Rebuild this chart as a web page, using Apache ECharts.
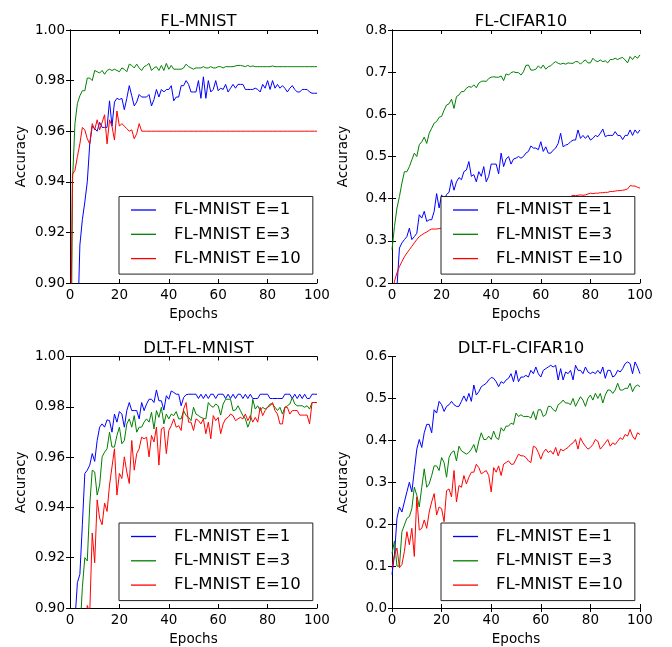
<!DOCTYPE html>
<html>
<head>
<meta charset="utf-8">
<script src="https://cdn.jsdelivr.net/npm/echarts@6/dist/echarts.min.js"></script>
<style>html,body{margin:0;padding:0;background:#fff;}#c{width:672px;height:647px;}</style>
</head>
<body>
<div id="c"></div>
<script>
const titles = ['FL-MNIST', 'FL-CIFAR10', 'DLT-FL-MNIST', 'DLT-FL-CIFAR10'];
const seriesNames = ['FL-MNIST E=1', 'FL-MNIST E=3', 'FL-MNIST E=10'];
const xTicks = [0, 20, 40, 60, 80, 100];
const yRanges = [[0.90, 1.00, 0.02, 2], [0.2, 0.8, 0.1, 1], [0.90, 1.00, 0.02, 2], [0.0, 0.6, 0.1, 1]];

// FL-MNIST
const p1E1 = [0.80,0.82,0.85,0.88,0.915,0.925,0.932,0.940,0.955,0.962,
0.961,0.960,0.9635,0.9615,0.9615,0.9615,0.972,0.962,0.9715,0.973,
0.9725,0.973,0.9685,0.973,0.978,0.974,0.970,0.9715,0.9745,0.9735,
0.9735,0.9735,0.9745,0.970,0.9725,0.9765,0.9735,0.9765,0.9755,0.9765,
0.9765,0.978,0.972,0.9735,0.9735,0.978,0.978,0.980,0.9785,0.9755,
0.9755,0.9755,0.980,0.973,0.9815,0.973,0.980,0.9755,0.9765,0.980,
0.976,0.977,0.9765,0.9785,0.9755,0.977,0.9785,0.977,0.9785,0.9785,
0.9785,0.9765,0.9765,0.9765,0.9765,0.977,0.9765,0.9755,0.9785,0.977,
0.980,0.9765,0.980,0.977,0.9785,0.977,0.978,0.977,0.9755,0.977,
0.978,0.9765,0.9755,0.9755,0.9765,0.9765,0.9765,0.9755,0.975,0.975,0.975];
const p1E3 = [0.80,0.940,0.963,0.971,0.974,0.976,0.976,0.981,0.981,0.980,
0.984,0.9835,0.983,0.984,0.9825,0.984,0.9845,0.984,0.9845,0.984,
0.9835,0.985,0.9845,0.9835,0.9865,0.986,0.985,0.9865,0.985,0.984,
0.9855,0.986,0.9868,0.984,0.985,0.9855,0.984,0.986,0.984,0.9868,
0.9845,0.986,0.9845,0.9845,0.9845,0.9845,0.985,0.9865,0.9855,0.985,
0.9845,0.985,0.985,0.985,0.9855,0.985,0.985,0.9855,0.985,0.985,
0.9855,0.9855,0.985,0.9855,0.9855,0.9855,0.9855,0.9858,0.986,0.986,
0.9858,0.9855,0.986,0.9855,0.9858,0.9855,0.9855,0.9855,0.9855,0.9855,
0.9855,0.9855,0.9858,0.9855,0.9855,0.9855,0.9855,0.9855,0.9855,0.9855,
0.9855,0.9855,0.9855,0.9855,0.9855,0.9855,0.9855,0.9855,0.9855,0.9855,0.9855];
const p1E10 = [0.85,0.943,0.9445,0.950,0.955,0.9615,0.9605,0.957,0.955,0.963,
0.9605,0.9645,0.9605,0.9635,0.9665,0.955,0.9645,0.962,0.9565,0.968,
0.962,0.963,0.962,0.961,0.960,0.9605,0.957,0.959,0.963,0.960,
0.960,0.960,0.960,0.960,0.960,0.960,0.960,0.960,0.960,0.960,
0.960,0.960,0.960,0.960,0.960,0.960,0.960,0.960,0.960,0.960,
0.960,0.960,0.960,0.960,0.960,0.960,0.960,0.960,0.960,0.960,
0.960,0.960,0.960,0.960,0.960,0.960,0.960,0.960,0.960,0.960,
0.960,0.960,0.960,0.960,0.960,0.960,0.960,0.960,0.960,0.960,
0.960,0.960,0.960,0.960,0.960,0.960,0.960,0.960,0.960,0.960,
0.960,0.960,0.960,0.960,0.960,0.960,0.960,0.960,0.960,0.960,0.960];

// FL-CIFAR10
const p2E1 = [0.12,0.16,0.19,0.283,0.295,0.303,0.310,0.330,0.303,0.310,
0.318,0.362,0.354,0.370,0.346,0.350,0.350,0.370,0.412,0.378,
0.409,0.395,0.41,0.415,0.445,0.42,0.44,0.45,0.445,0.464,
0.468,0.488,0.453,0.457,0.44,0.464,0.453,0.476,0.44,0.453,
0.482,0.482,0.482,0.459,0.508,0.476,0.494,0.50,0.482,0.494,
0.496,0.50,0.496,0.50,0.508,0.512,0.525,0.52,0.52,0.516,
0.535,0.512,0.523,0.508,0.508,0.515,0.52,0.531,0.555,0.523,
0.527,0.529,0.535,0.539,0.539,0.563,0.543,0.55,0.543,0.55,
0.539,0.543,0.55,0.547,0.555,0.565,0.547,0.55,0.55,0.55,
0.559,0.55,0.55,0.54,0.55,0.55,0.563,0.55,0.563,0.555,0.563];
const p2E3 = [0.279,0.334,0.378,0.405,0.437,0.464,0.464,0.476,0.492,0.508,
0.500,0.528,0.535,0.546,0.531,0.555,0.567,0.579,0.583,0.593,
0.595,0.610,0.622,0.625,0.636,0.614,0.642,0.646,0.654,0.654,
0.662,0.666,0.664,0.670,0.663,0.674,0.678,0.679,0.678,0.685,
0.688,0.689,0.688,0.688,0.691,0.680,0.696,0.693,0.699,0.701,
0.699,0.699,0.693,0.701,0.716,0.717,0.705,0.705,0.707,0.715,
0.709,0.717,0.707,0.713,0.715,0.721,0.725,0.721,0.719,0.721,
0.719,0.722,0.721,0.721,0.725,0.725,0.719,0.725,0.729,0.722,
0.722,0.733,0.727,0.725,0.729,0.725,0.727,0.722,0.730,0.730,
0.733,0.730,0.733,0.735,0.729,0.722,0.737,0.730,0.738,0.733,0.741];
const p2E10 = [0.17,0.204,0.224,0.239,0.251,0.262,0.271,0.279,0.287,0.295,
0.303,0.310,0.314,0.318,0.321,0.325,0.328,0.328,0.328,0.329,
0.330,0.332,0.334,0.336,0.338,0.339,0.341,0.343,0.344,0.346,
0.347,0.349,0.350,0.352,0.353,0.355,0.356,0.357,0.359,0.360,
0.362,0.363,0.364,0.366,0.367,0.368,0.369,0.371,0.372,0.373,
0.374,0.376,0.377,0.378,0.379,0.381,0.382,0.383,0.384,0.385,
0.387,0.388,0.389,0.390,0.392,0.393,0.394,0.396,0.397,0.399,
0.401,0.403,0.405,0.408,0.407,0.408,0.409,0.408,0.409,0.411,
0.413,0.412,0.413,0.413,0.414,0.414,0.415,0.415,0.417,0.417,
0.418,0.419,0.419,0.420,0.421,0.423,0.431,0.430,0.430,0.427,0.425];

// DLT-FL-MNIST
const p3E1 = [0.85,0.87,0.895,0.9101,0.9134,0.9331,0.9535,0.9548,0.9568,0.9614,
0.9583,0.9666,0.9719,0.9732,0.9719,0.9748,0.9745,0.9699,0.9771,0.9739,
0.9781,0.9771,0.9719,0.9785,0.9817,0.9785,0.9785,0.9785,0.9752,0.9817,
0.9785,0.9811,0.9830,0.9830,0.9817,0.9867,0.9824,0.9824,0.9787,0.9844,
0.9830,0.9863,0.9857,0.9850,0.9850,0.9804,0.9837,0.9848,0.985,0.985,
0.985,0.985,0.9833,0.985,0.9833,0.985,0.9833,0.985,0.985,0.9833,
0.985,0.985,0.985,0.9833,0.985,0.9833,0.985,0.9833,0.985,0.985,
0.9833,0.985,0.9833,0.985,0.9833,0.9833,0.9833,0.985,0.985,0.985,
0.985,0.9833,0.9833,0.9833,0.9833,0.9833,0.9833,0.985,0.985,0.985,
0.9833,0.985,0.9833,0.985,0.9833,0.985,0.9833,0.9833,0.985,0.985,0.985];
const p3E3 = [0.80,0.82,0.85,0.87,0.89,0.9081,0.9200,0.9187,0.9410,0.9548,
0.9541,0.9449,0.9489,0.9601,0.9620,0.9633,0.9699,0.9640,0.9640,0.9686,
0.9719,0.9653,0.9666,0.9732,0.9752,0.9719,0.9765,0.9699,0.9719,0.9719,
0.9739,0.9752,0.9739,0.9778,0.9712,0.9785,0.9758,0.9798,0.9732,0.9771,
0.9752,0.9771,0.9765,0.9781,0.9752,0.9752,0.9785,0.9765,0.9758,0.9745,
0.9798,0.9771,0.9765,0.9758,0.9754,0.9752,0.9817,0.9804,0.9798,0.9811,
0.9804,0.9767,0.9811,0.9830,0.9830,0.9830,0.9785,0.9787,0.9804,0.9785,
0.9765,0.9752,0.9719,0.9745,0.9830,0.9791,0.9804,0.9785,0.9798,0.9791,
0.9798,0.9811,0.9811,0.9798,0.9785,0.9798,0.9771,0.9798,0.9804,0.9811,
0.9837,0.9811,0.9804,0.9804,0.9804,0.9798,0.9804,0.9791,0.9817,0.9817,0.9817];
const p3E10 = [0.80,0.82,0.84,0.86,0.87,0.88,0.89,0.901,0.898,0.9298,
0.9180,0.9430,0.9357,0.9331,0.9417,0.9384,0.9489,0.9561,0.9633,0.9449,
0.9535,0.9515,0.9601,0.9541,0.9495,0.9666,0.9548,0.9614,0.9633,0.9679,
0.9673,0.9679,0.9601,0.9686,0.9660,0.9719,0.9568,0.9712,0.9719,0.9614,
0.9706,0.9725,0.9752,0.9719,0.9725,0.9706,0.9791,0.9817,0.9739,0.9739,
0.9706,0.9752,0.9745,0.9732,0.9752,0.9693,0.9739,0.9673,0.9765,0.9745,
0.9758,0.9693,0.9732,0.9752,0.9758,0.9771,0.9765,0.9745,0.9752,0.9758,
0.9752,0.9771,0.9745,0.9765,0.9739,0.9758,0.9739,0.9798,0.9765,0.9785,
0.9798,0.9804,0.9817,0.9785,0.9771,0.9732,0.9732,0.9798,0.9798,0.9771,
0.9785,0.9785,0.9785,0.9767,0.9767,0.9767,0.9767,0.9732,0.9817,0.9817,0.9817];

// DLT-FL-CIFAR10
const p4E1 = [0.080,0.127,0.214,0.241,0.229,0.253,0.277,0.300,0.277,0.328,
0.379,0.402,0.383,0.418,0.438,0.438,0.418,0.473,0.465,0.493,
0.485,0.469,0.481,0.485,0.493,0.485,0.481,0.481,0.493,0.506,
0.493,0.512,0.493,0.532,0.508,0.516,0.528,0.532,0.536,0.544,
0.550,0.548,0.540,0.528,0.540,0.536,0.544,0.548,0.559,0.540,
0.567,0.540,0.551,0.551,0.555,0.551,0.567,0.559,0.575,0.559,
0.551,0.567,0.571,0.575,0.579,0.575,0.579,0.544,0.571,0.544,
0.563,0.559,0.567,0.544,0.579,0.567,0.567,0.559,0.575,0.563,
0.559,0.563,0.559,0.567,0.559,0.575,0.548,0.567,0.567,0.551,
0.555,0.567,0.563,0.571,0.583,0.587,0.583,0.559,0.587,0.575,0.559];
const p4E3 = [0.13,0.16,0.10,0.10,0.182,0.198,0.214,0.218,0.237,0.288,
0.269,0.241,0.288,0.332,0.288,0.296,0.316,0.339,0.339,0.328,
0.359,0.347,0.312,0.359,0.371,0.375,0.351,0.386,0.375,0.371,
0.367,0.371,0.379,0.390,0.371,0.398,0.418,0.402,0.402,0.410,
0.402,0.422,0.406,0.402,0.430,0.422,0.434,0.434,0.441,0.438,
0.465,0.457,0.461,0.457,0.457,0.457,0.453,0.469,0.449,0.473,
0.473,0.457,0.461,0.481,0.481,0.473,0.469,0.485,0.489,0.496,
0.489,0.489,0.485,0.500,0.481,0.493,0.504,0.496,0.481,0.500,
0.508,0.496,0.512,0.500,0.512,0.489,0.508,0.520,0.520,0.512,
0.520,0.536,0.520,0.520,0.524,0.524,0.536,0.516,0.528,0.532,0.528];
const p4E10 = [0.096,0.127,0.143,0.096,0.104,0.135,0.182,0.151,0.190,0.123,
0.265,0.186,0.190,0.210,0.190,0.229,0.253,0.273,0.222,0.241,
0.237,0.206,0.280,0.284,0.265,0.328,0.253,0.292,0.288,0.316,
0.296,0.312,0.324,0.324,0.343,0.335,0.320,0.324,0.328,0.316,
0.277,0.335,0.324,0.339,0.316,0.343,0.347,0.351,0.343,0.343,
0.355,0.367,0.363,0.363,0.359,0.351,0.347,0.386,0.383,0.371,
0.355,0.371,0.379,0.371,0.375,0.367,0.383,0.363,0.379,0.375,
0.379,0.383,0.390,0.394,0.402,0.379,0.406,0.394,0.386,0.379,
0.383,0.390,0.402,0.398,0.379,0.386,0.394,0.402,0.386,0.394,
0.390,0.398,0.406,0.402,0.414,0.410,0.426,0.410,0.402,0.418,0.414];

const panelData = [[p1E1, p1E3, p1E10], [p2E1, p2E3, p2E10], [p3E1, p3E3, p3E10], [p4E1, p4E3, p4E10]];
const colors = ['#0000ff', '#008000', '#ff0000'];

const FONT = 'DejaVu Sans';
const grids = [
  {left: 70, top: 30, width: 247, height: 253},
  {left: 392, top: 30, width: 248, height: 253},
  {left: 70, top: 356.5, width: 247, height: 254},
  {left: 392, top: 356.5, width: 248, height: 254}
];

const option = {
  animation: false,
  backgroundColor: '#ffffff',
  title: [], grid: [], xAxis: [], yAxis: [], legend: [], series: []
};

grids.forEach((g, k) => {
  option.grid.push(Object.assign({containLabel: false}, g));
  option.title.push({
    text: titles[k],
    left: g.left + g.width / 2,
    top: g.top - 22,
    textAlign: 'center',
    textStyle: {fontFamily: FONT, fontSize: 16.5, fontWeight: 'normal', color: '#000', lineHeight: 18}
  });
  const [ymin, ymax, yint, dec] = yRanges[k];
  const lineS = {show: true, lineStyle: {color: '#000', width: 1}};
  const tickS = {show: true, inside: true, length: 4, lineStyle: {color: '#000', width: 1}};
  option.xAxis.push({
    type: 'value', gridIndex: k, min: xTicks[0], max: xTicks[xTicks.length - 1], interval: 20,
    position: 'bottom', axisLine: lineS, axisTick: tickS, splitLine: {show: false},
    axisLabel: {fontFamily: FONT, fontSize: 13.5, color: '#000', margin: 5},
    name: 'Epochs', nameLocation: 'middle', nameGap: 24,
    nameTextStyle: {fontFamily: FONT, fontSize: 13.5, color: '#000'}
  });
  option.xAxis.push({
    type: 'value', gridIndex: k, min: xTicks[0], max: xTicks[xTicks.length - 1], interval: 20,
    position: 'top', axisLine: lineS, axisTick: tickS, splitLine: {show: false},
    axisLabel: {show: false}
  });
  option.yAxis.push({
    type: 'value', gridIndex: k, min: ymin, max: ymax, interval: yint,
    position: 'left', axisLine: lineS, axisTick: tickS, splitLine: {show: false},
    axisLabel: {fontFamily: FONT, fontSize: 13.5, color: '#000', margin: 5, formatter: v => v.toFixed(dec)},
    name: 'Accuracy', nameLocation: 'middle', nameGap: 42, nameRotate: 90,
    nameTextStyle: {fontFamily: FONT, fontSize: 13.5, color: '#000'}
  });
  option.yAxis.push({
    type: 'value', gridIndex: k, min: ymin, max: ymax, interval: yint,
    position: 'right', axisLine: lineS, axisTick: tickS, splitLine: {show: false},
    axisLabel: {show: false}
  });
  option.legend.push({
    orient: 'vertical',
    left: g.left + 49,
    top: g.top + 166.5,
    data: seriesNames,
    icon: 'rect',
    itemWidth: 25,
    itemHeight: 1.3,
    itemGap: 6.3,
    padding: [4.5, 12, 6.5, 12],
    backgroundColor: '#ffffff',
    borderColor: '#222',
    borderWidth: 1,
    borderRadius: 0,
    selectedMode: false,
    z: 10,
    textStyle: {fontFamily: FONT, fontSize: 16.5, color: '#000', lineHeight: 18, padding: [0, 0, 0, 13]}
  });
  panelData[k].forEach((arr, s) => {
    option.series.push({
      type: 'line', name: seriesNames[s], xAxisIndex: 2 * k, yAxisIndex: 2 * k,
      data: arr.map((v, i) => [i, v]),
      symbol: 'none', showSymbol: false, clip: true,
      color: colors[s],
      lineStyle: {color: colors[s], width: 1},
      itemStyle: {color: colors[s]},
      z: 2
    });
  });
});

const chart = echarts.init(document.getElementById('c'), null, {renderer: 'canvas'});
chart.setOption(option);
</script>
</body>
</html>
